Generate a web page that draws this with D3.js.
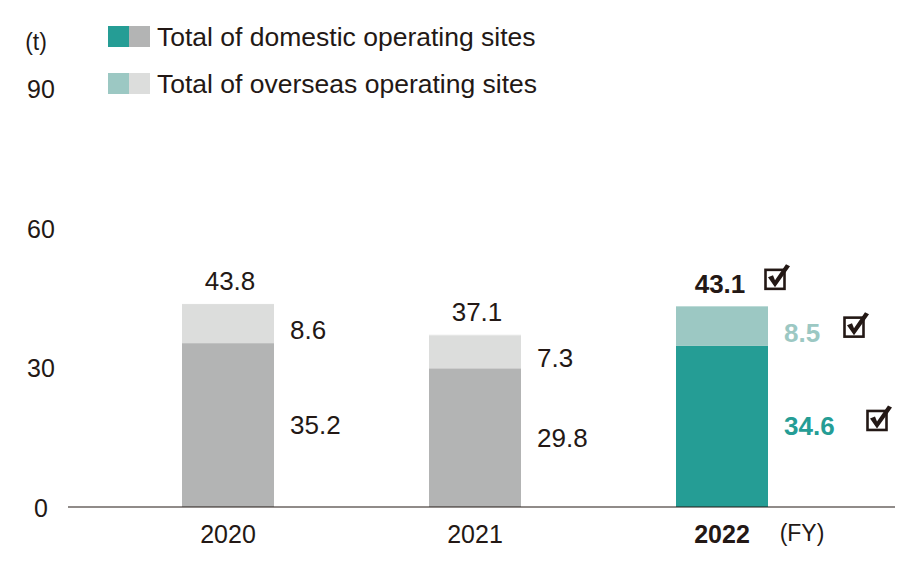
<!DOCTYPE html>
<html><head><meta charset="utf-8">
<script src="https://cdn.jsdelivr.net/npm/d3@7"></script>
<style>body{margin:0;background:#fff}text{font-family:"Liberation Sans",Arial,sans-serif;fill:#231815}</style>
</head><body><div id="chart"></div>
<script>
var years = ["2020", "2021", "2022"];
var domestic = [35.2, 29.8, 34.6];
var overseas = [8.6, 7.3, 8.5];
var totals = [43.8, 37.1, 43.1];
var yTicks = [0, 30, 60, 90];

var W = 922, H = 568;
var svg = d3.select("#chart").append("svg").attr("width", W).attr("height", H);

var y = d3.scaleLinear().domain([0, 90]).range([507, 88]);
var x = d3.scalePoint().domain(years).range([228, 722]);
var bw = 92;

var colDom = ["#b3b4b4", "#b3b4b4", "#259d95"];
var colOv = ["#dcdddc", "#dcdddc", "#9cc8c3"];

svg.selectAll("text.ytick").data(yTicks).enter().append("text")
  .attr("x", 41).attr("y", function(d){ return y(d) + 10; })
  .attr("text-anchor", "middle").attr("font-size", 25).text(function(d){ return d; });
svg.append("text").attr("x", 36).attr("y", 50).attr("text-anchor", "middle").attr("font-size", 23).text("(t)");

years.forEach(function(yr, i){
  var bx = x(yr) - bw / 2;
  svg.append("rect").attr("x", bx).attr("width", bw)
    .attr("y", y(domestic[i])).attr("height", y(0) - y(domestic[i])).attr("fill", colDom[i]);
  svg.append("rect").attr("x", bx).attr("width", bw)
    .attr("y", y(totals[i])).attr("height", y(domestic[i]) - y(totals[i])).attr("fill", colOv[i]);
  if (i < 2) svg.append("line").attr("x1", bx).attr("x2", bx + bw)
    .attr("y1", y(totals[i]) + 0.5).attr("y2", y(totals[i]) + 0.5).attr("stroke", "#fff").attr("stroke-width", 1);
});

svg.append("line").attr("x1", 68).attr("x2", 895).attr("y1", y(0)).attr("y2", y(0)).attr("stroke", "#231815").attr("stroke-width", 1.2);

svg.selectAll("text.xl").data(years).enter().append("text")
  .attr("x", function(d){ return x(d); }).attr("y", 543)
  .attr("text-anchor", "middle").attr("font-size", 25)
  .attr("font-weight", function(d, i){ return i == 2 ? "bold" : null; }).text(function(d){ return d; });
svg.append("text").attr("x", 802).attr("y", 541).attr("text-anchor", "middle").attr("font-size", 23).text("(FY)");

function check(cx, cy){
  var g = svg.append("g").attr("transform", "translate(" + cx + "," + cy + ")");
  g.append("rect").attr("x", 1.5).attr("y", 5.5).attr("width", 19).attr("height", 19).attr("fill", "none").attr("stroke", "#231815").attr("stroke-width", 2.6);
  g.append("path").attr("d", "M4,13 L9,11 L11,16 L22,0 L26,2 L11,23 Z").attr("fill", "#231815");
}
years.forEach(function(yr, i){
  var cx = x(yr), right = cx + bw / 2;
  var bold = i == 2;
  svg.append("text").attr("x", cx + (bold ? -2 : 2)).attr("y", y(totals[i]) - 13).attr("text-anchor", "middle")
    .attr("font-size", 26).attr("font-weight", bold ? "bold" : null).text(totals[i].toFixed(1));
  var ovMid = (y(totals[i]) + y(domestic[i])) / 2;
  svg.append("text").attr("x", right + 16).attr("y", ovMid + 16).attr("font-size", 26)
    .attr("font-weight", bold ? "bold" : null)
    .style("fill", bold ? "#9cc8c3" : null).text(overseas[i].toFixed(1));
  svg.append("text").attr("x", right + 16).attr("y", y(domestic[i] / 2) + 9).attr("font-size", 26)
    .attr("font-weight", bold ? "bold" : null)
    .style("fill", bold ? "#259d95" : null).text(domestic[i].toFixed(1));
  if (bold) {
    check(cx + 42, y(totals[i]) - 42);
    check(right + 75, ovMid - 14);
    check(right + 98, y(domestic[i] / 2) - 21);
  }
});

var legend = [["Total of domestic operating sites", "#259d95", "#b3b4b4"], ["Total of overseas operating sites", "#9cc8c3", "#dcdddc"]];
legend.forEach(function(l, i){
  var ly = 26 + i * 47;
  svg.append("rect").attr("x", 108).attr("y", ly).attr("width", 21).attr("height", 21).attr("fill", l[1]);
  svg.append("rect").attr("x", 129).attr("y", ly).attr("width", 21).attr("height", 21).attr("fill", l[2]);
  svg.append("text").attr("x", 157).attr("y", ly + 20).attr("font-size", 26.5).text(l[0]);
});
</script></body></html>
